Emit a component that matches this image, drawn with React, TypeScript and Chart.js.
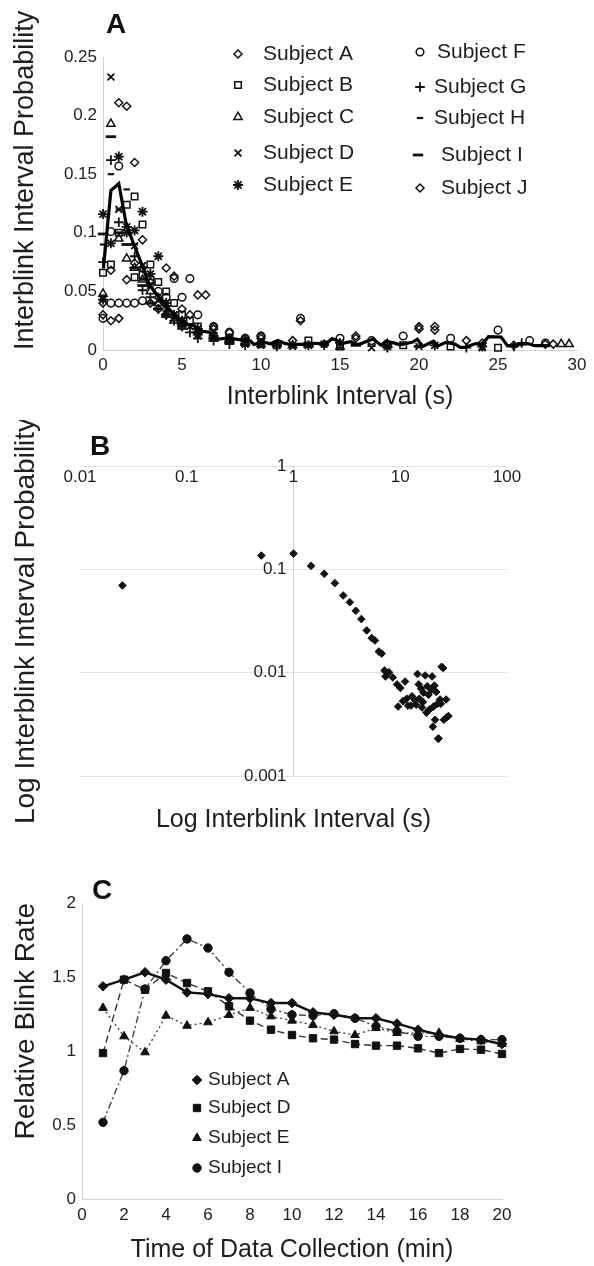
import React, { useEffect, useRef } from 'react';
import { Chart, registerables } from 'chart.js';
import { drawPoint } from 'chart.js/helpers';

Chart.register(...registerables);

const FONT = '"Liberation Sans", Arial, Helvetica, sans-serif';
const INK = '#1e1e1e';
const AXIS_GRAY = '#d2d2d2';
const GRID_GRAY = '#e2e2e2';

// ---------------- Panel A data ----------------
const subjectNames = ['Subject A', 'Subject B', 'Subject C', 'Subject D', 'Subject E', 'Subject F', 'Subject G', 'Subject H', 'Subject I', 'Subject J'];

const subjA: [number, number][] = [[0, 0.040], [0.5, 0.068], [1, 0.211], [1.5, 0.208], [2, 0.074], [2.5, 0.094], [3, 0.058], [3.5, 0.045], [4, 0.070], [4.5, 0.063], [5, 0.035], [5.5, 0.030], [6, 0.047], [6.5, 0.047], [7, 0.020], [8, 0.015], [9, 0.010], [10, 0.012], [12, 0.008], [14, 0.005], [16, 0.010], [18, 0.005], [20, 0.018], [21, 0.020], [23, 0.008], [26, 0.004], [28, 0.005]];
const subjB: [number, number][] = [[0, 0.066], [0.5, 0.073], [1, 0.100], [1.5, 0.124], [2, 0.131], [2, 0.062], [2.5, 0.107], [2.5, 0.064], [3, 0.073], [3, 0.060], [3.5, 0.058], [4, 0.050], [4.5, 0.040], [5, 0.030], [5.5, 0.025], [6, 0.020], [7, 0.012], [8, 0.010], [9, 0.006], [10, 0.005], [11, 0.004], [13, 0.008], [15, 0.003], [17, 0.006], [19, 0.004], [22, 0.003], [25, 0.002]];
const subjC: [number, number][] = [[0, 0.048], [0.5, 0.193], [1, 0.095], [1.5, 0.078], [2, 0.070], [2.5, 0.060], [3, 0.050], [3.5, 0.040], [4, 0.030], [4.5, 0.025], [5, 0.020], [6, 0.015], [7, 0.010], [8, 0.008], [10, 0.005], [12, 0.004], [15, 0.003], [18, 0.005], [29, 0.005], [29.5, 0.005]];
const subjD: [number, number][] = [[0, 0.045], [0.5, 0.233], [1, 0.120], [1.5, 0.100], [2, 0.089], [2.5, 0.072], [3, 0.055], [3.5, 0.042], [4, 0.035], [4.5, 0.030], [5, 0.025], [5.5, 0.020], [6, 0.012], [7, 0.010], [8, 0.008], [9, 0.005], [10, 0.004], [12, 0.003], [14, 0.005], [17, 0.002], [20, 0.003], [24, 0.002]];
const subjE: [number, number][] = [[0, 0.116], [0, 0.043], [0.5, 0.091], [1, 0.165], [1.5, 0.105], [2, 0.102], [2.5, 0.118], [3, 0.065], [3.5, 0.080], [4, 0.040], [4.5, 0.030], [5, 0.025], [6, 0.018], [7, 0.012], [8, 0.010], [9, 0.008], [10, 0.006], [11, 0.005], [13, 0.004], [15, 0.006], [18, 0.003], [21, 0.004], [24, 0.003]];
const subjF: [number, number][] = [[0, 0.027], [0.5, 0.101], [0.5, 0.040], [1, 0.157], [1, 0.040], [1.5, 0.040], [2, 0.040], [2.5, 0.042], [3, 0.057], [3.5, 0.050], [4, 0.045], [4.5, 0.061], [5, 0.045], [5.5, 0.061], [6, 0.030], [7, 0.020], [8, 0.015], [9, 0.010], [10, 0.012], [12.5, 0.027], [15, 0.010], [17, 0.008], [19, 0.012], [22, 0.010], [25, 0.017], [27, 0.008], [28, 0.006]];
const subjG: [number, number][] = [[0, 0.075], [0.5, 0.162], [1, 0.109], [1.5, 0.100], [2, 0.080], [2.5, 0.051], [3, 0.045], [3.5, 0.035], [4, 0.030], [4.5, 0.025], [5, 0.020], [5.5, 0.015], [6, 0.010], [7, 0.008], [8, 0.005], [9, 0.004], [11, 0.003], [14, 0.004], [18, 0.002], [23, 0.002], [26, 0.003], [26.5, 0.006]];
const subjH: [number, number][] = [[0, 0.090], [0.5, 0.150], [1, 0.120], [1.5, 0.137], [2, 0.090], [2.5, 0.060], [3, 0.040], [4, 0.030], [5, 0.020], [6, 0.012], [7, 0.008], [8, 0.006], [10, 0.004], [12, 0.003], [15, 0.002]];
const subjI: [number, number][] = [[0, 0.099], [0.5, 0.182], [1, 0.100], [1.5, 0.090], [2, 0.070], [2.5, 0.055], [3, 0.040], [3.5, 0.035], [4, 0.030], [5, 0.022], [6, 0.015], [7, 0.010], [8, 0.007], [9, 0.005], [11, 0.004], [13, 0.003], [16, 0.004], [20, 0.003]];
const subjJ: [number, number][] = [[0, 0.030], [0.5, 0.025], [1, 0.027], [1.5, 0.060], [2, 0.160], [2.5, 0.070], [3, 0.040], [3.5, 0.035], [4, 0.030], [5, 0.020], [6, 0.015], [7, 0.018], [8, 0.010], [9, 0.008], [10, 0.010], [12.5, 0.025], [16, 0.012], [20, 0.020], [21, 0.017], [24, 0.006], [28.5, 0.005]];

// Mean interblink interval distribution (line in A, log-log scatter in B)
const meanX = [0.025, 0.5, 1.0, 1.46, 1.94, 2.44, 2.92, 3.37, 3.83, 4.32, 4.85, 5.4, 5.8, 6.3, 6.7, 7.12, 7.28, 7.82, 8.51, 9.34, 9.55, 10.04, 10.6, 11.1, 11.5, 11.8, 12.6, 12.9, 13.8, 14.1, 14.5, 14.9, 15.1, 15.7, 16.0, 16.3, 16.5, 17.1, 17.6, 17.9, 18.4, 18.8, 19.6, 19.9, 20.2, 20.5, 20.9, 21.2, 21.7, 22.3, 22.6, 22.9, 23.6, 24.0, 24.4, 25.2, 25.6, 26.9, 27.3, 28.3];
const meanY = [0.0697, 0.136, 0.142, 0.108, 0.0905, 0.0735, 0.0558, 0.048, 0.0397, 0.033, 0.0256, 0.0216, 0.0205, 0.016, 0.0153, 0.0105, 0.0092, 0.0101, 0.0090, 0.0077, 0.0047, 0.0071, 0.0053, 0.0082, 0.0056, 0.0048, 0.0048, 0.0059, 0.0054, 0.0049, 0.0097, 0.0077, 0.0056, 0.0070, 0.0046, 0.0052, 0.0064, 0.0094, 0.0041, 0.0074, 0.0061, 0.0044, 0.0068, 0.0092, 0.0030, 0.0047, 0.0075, 0.0035, 0.0065, 0.0050, 0.0023, 0.0023, 0.0055, 0.0050, 0.0114, 0.0111, 0.0035, 0.0055, 0.0037, 0.0038];

// ---------------- Panel B ticks ----------------
const bXTicks = [0.01, 0.1, 1, 10, 100];
const bYTicks = [0.001, 0.01, 0.1, 1];

// ---------------- Panel C data ----------------
const minutes = [1, 2, 3, 4, 5, 6, 7, 8, 9, 10, 11, 12, 13, 14, 15, 16, 17, 18, 19, 20];
const rateA = [1.437, 1.482, 1.532, 1.482, 1.396, 1.385, 1.356, 1.356, 1.324, 1.324, 1.261, 1.245, 1.221, 1.221, 1.185, 1.144, 1.110, 1.086, 1.077, 1.047];
const rateD = [0.986, 1.482, 1.414, 1.527, 1.459, 1.403, 1.302, 1.205, 1.144, 1.108, 1.086, 1.077, 1.047, 1.036, 1.036, 1.018, 0.986, 1.014, 1.009, 0.980];
const rateE = [1.291, 1.099, 0.991, 1.239, 1.171, 1.194, 1.243, 1.291, 1.234, 1.205, 1.176, 1.133, 1.108, 1.155, 1.122, 1.122, 1.122, 1.081, 1.065, 1.047];
const rateI = [0.518, 0.867, 1.419, 1.610, 1.757, 1.696, 1.532, 1.392, 1.284, 1.245, 1.239, 1.252, 1.221, 1.167, 1.133, 1.099, 1.099, 1.086, 1.077, 1.077];
const cNames = ['Subject A', 'Subject D', 'Subject E', 'Subject I'];

// ---------------- helpers ----------------
const toPts = (arr: [number, number][]) => arr.map(([x, y]) => ({ x, y }));
const fmt = (v: any) => String(Number(Number(v).toFixed(3)));
const tickFont = { family: FONT, size: 17 };

type LegendItem = { ds: number; mx: number; tx: number; y: number };
function makeLegend(id: string, items: LegendItem[], fontSize: number) {
  return {
    id,
    afterDraw(chart: any) {
      const ctx = chart.ctx as CanvasRenderingContext2D;
      items.forEach((it) => {
        const ds: any = chart.data.datasets[it.ds];
        ctx.save();
        ctx.setLineDash([]);
        ctx.strokeStyle = ds.pointBorderColor || ds.borderColor;
        ctx.fillStyle = ds.pointBackgroundColor || ds.backgroundColor;
        const bw = ds.pointBorderWidth ?? ds.borderWidth ?? 1;
        ctx.lineWidth = bw;
        drawPoint(ctx, { pointStyle: ds.pointStyle, radius: ds.pointRadius, rotation: 0, borderWidth: bw } as any, it.mx, it.y);
        ctx.restore();
        ctx.save();
        ctx.font = `${fontSize}px ${FONT}`;
        ctx.fillStyle = INK;
        ctx.textBaseline = 'middle';
        ctx.textAlign = 'left';
        ctx.fillText(ds.label, it.tx, it.y);
        ctx.restore();
      });
    },
  };
}

const aMarkers = [
  { style: 'rectRot', r: 4, w: 1.5 },
  { style: 'rect', r: 4.6, w: 1.5 },
  { style: 'triangle', r: 4.8, w: 1.5 },
  { style: 'crossRot', r: 4.8, w: 1.8 },
  { style: 'star', r: 5, w: 1.8 },
  { style: 'circle', r: 3.8, w: 1.5 },
  { style: 'cross', r: 4.8, w: 1.8 },
  { style: 'line', r: 3.2, w: 2.2 },
  { style: 'line', r: 5.2, w: 2.8 },
  { style: 'rectRot', r: 4, w: 1.5 },
];

const aLegendItems: LegendItem[] = [
  { ds: 1, mx: 238, tx: 263, y: 54 },
  { ds: 2, mx: 238, tx: 263, y: 85 },
  { ds: 3, mx: 238, tx: 263, y: 117 },
  { ds: 4, mx: 238, tx: 263, y: 153 },
  { ds: 5, mx: 238, tx: 263, y: 185 },
  { ds: 6, mx: 420, tx: 437, y: 52 },
  { ds: 7, mx: 420, tx: 434, y: 87 },
  { ds: 8, mx: 420, tx: 434, y: 118 },
  { ds: 9, mx: 418, tx: 441, y: 155 },
  { ds: 10, mx: 420, tx: 441, y: 188 },
];

const cLegendItems: LegendItem[] = [
  { ds: 0, mx: 197, tx: 208, y: 240 },
  { ds: 1, mx: 197, tx: 208, y: 268 },
  { ds: 2, mx: 197, tx: 208, y: 298 },
  { ds: 3, mx: 197, tx: 208, y: 328 },
];

function configA(): any {
  const subjects = [subjA, subjB, subjC, subjD, subjE, subjF, subjG, subjH, subjI, subjJ];
  const datasets: any[] = [
    {
      type: 'line',
      label: 'Mean',
      data: meanX.map((x, i) => ({ x, y: meanY[i] })),
      borderColor: '#000',
      borderWidth: 3.2,
      pointRadius: 0,
      tension: 0,
      fill: false,
      clip: false,
    },
  ];
  subjects.forEach((s, i) => {
    const m = aMarkers[i];
    datasets.push({
      type: 'scatter',
      label: subjectNames[i],
      data: toPts(s),
      pointStyle: m.style,
      pointRadius: m.r,
      pointBorderWidth: m.w,
      borderWidth: m.w,
      pointBorderColor: '#111',
      borderColor: '#111',
      pointBackgroundColor: 'rgba(255,255,255,0)',
      backgroundColor: 'rgba(255,255,255,0)',
      clip: false,
    });
  });
  return {
    type: 'scatter',
    data: { datasets },
    options: {
      responsive: false,
      animation: false,
      devicePixelRatio: 1,
      events: [],
      layout: { padding: { top: 57, right: 17, left: 0, bottom: 0 } },
      plugins: { legend: { display: false }, tooltip: { enabled: false } },
      scales: {
        x: {
          type: 'linear',
          min: 0,
          max: 30,
          ticks: { stepSize: 5, color: INK, font: tickFont, padding: 5, maxRotation: 0, callback: fmt },
          grid: { display: false, drawTicks: false },
          border: { display: true, color: AXIS_GRAY },
          title: { display: true, text: 'Interblink Interval (s)', color: INK, font: { family: FONT, size: 25 }, padding: { top: 0, bottom: 8 } },
          afterFit: (s: any) => { s.height = 70; },
        },
        y: {
          type: 'linear',
          min: 0,
          max: 0.25,
          ticks: { stepSize: 0.05, color: INK, font: tickFont, padding: 6, callback: fmt },
          grid: { display: false, drawTicks: false },
          border: { display: true, color: AXIS_GRAY },
          title: { display: true, text: 'Interblink Interval Probability', color: INK, font: { family: FONT, size: 27 }, align: 'start', padding: { top: 9, bottom: 0 } },
          afterFit: (s: any) => { s.width = 103; },
        },
      },
    },
    plugins: [makeLegend('legendA', aLegendItems, 21)],
  };
}

function configB(): any {
  return {
    type: 'scatter',
    data: {
      datasets: [
        {
          label: 'Mean',
          data: meanX.map((x, i) => ({ x, y: meanY[i] })),
          xAxisID: 'x',
          yAxisID: 'y',
          pointStyle: 'rectRot',
          pointRadius: 3.8,
          pointBackgroundColor: '#111',
          pointBorderColor: '#111',
          pointBorderWidth: 1,
          clip: false,
        },
      ],
    },
    options: {
      responsive: false,
      animation: false,
      devicePixelRatio: 1,
      events: [],
      layout: { padding: { top: 46, right: 87, left: 0, bottom: 0 } },
      plugins: { legend: { display: false }, tooltip: { enabled: false } },
      scales: {
        x: {
          type: 'logarithmic',
          position: { y: 1 },
          min: 0.01,
          max: 100,
          afterBuildTicks: (s: any) => { s.ticks = bXTicks.map((v) => ({ value: v })); },
          ticks: { color: INK, font: tickFont, padding: 1, autoSkip: false, maxRotation: 0, callback: (v: any) => String(v) },
          grid: { display: true, drawTicks: false, color: (c: any) => (c.tick && c.tick.value === 1 ? AXIS_GRAY : 'rgba(0,0,0,0)') },
          border: { display: false },
        },
        y: {
          type: 'logarithmic',
          position: { x: 0.86 },
          min: 0.001,
          max: 1,
          afterBuildTicks: (s: any) => { s.ticks = bYTicks.map((v) => ({ value: v })); },
          ticks: { color: INK, font: tickFont, padding: 0, autoSkip: false, callback: (v: any) => String(v) },
          grid: { display: true, drawTicks: false, color: GRID_GRAY },
          border: { display: false },
        },
        xt: {
          axis: 'x',
          type: 'linear',
          position: 'bottom',
          min: 0,
          max: 1,
          ticks: { display: false },
          grid: { display: false, drawTicks: false },
          border: { display: false },
          title: { display: true, text: 'Log Interblink Interval (s)', color: INK, font: { family: FONT, size: 25 }, padding: { top: 0, bottom: 5 } },
          afterFit: (s: any) => { s.height = 64; },
        },
        yt: {
          axis: 'y',
          type: 'linear',
          position: 'left',
          min: 0,
          max: 1,
          ticks: { display: false },
          grid: { display: false, drawTicks: false },
          border: { display: false },
          title: { display: true, text: 'Log Interblink Interval Probability', color: INK, font: { family: FONT, size: 28 }, padding: { top: 9, bottom: 0 } },
          afterFit: (s: any) => { s.width = 80; },
        },
      },
    },
  };
}

function configC(): any {
  const mk = (label: string, vals: number[], style: string, r: number, dash: number[], width: number, color: string) => ({
    label,
    data: minutes.map((m, i) => ({ x: m, y: vals[i] })),
    borderColor: color,
    borderWidth: width,
    borderDash: dash,
    pointStyle: style,
    pointRadius: r,
    pointBackgroundColor: '#111',
    pointBorderColor: '#111',
    pointBorderWidth: 1,
    backgroundColor: '#111',
    tension: 0,
    fill: false,
    clip: false,
  });
  return {
    type: 'line',
    data: {
      datasets: [
        mk(cNames[0], rateA, 'rectRot', 4.8, [], 2.4, '#111'),
        mk(cNames[1], rateD, 'rect', 5.2, [7, 4], 1.4, '#333'),
        mk(cNames[2], rateE, 'triangle', 5, [2, 3], 1.4, '#444'),
        mk(cNames[3], rateI, 'circle', 4.2, [7, 3, 2, 3], 1.4, '#444'),
      ],
    },
    options: {
      responsive: false,
      animation: false,
      devicePixelRatio: 1,
      events: [],
      layout: { padding: { top: 63, right: 92, left: 0, bottom: 0 } },
      plugins: { legend: { display: false }, tooltip: { enabled: false } },
      scales: {
        x: {
          type: 'linear',
          min: 0,
          max: 20,
          ticks: { stepSize: 2, color: INK, font: tickFont, padding: 6, maxRotation: 0, callback: fmt },
          grid: { display: false, drawTicks: false },
          border: { display: true, color: AXIS_GRAY },
          title: { display: true, text: 'Time of Data Collection (min)', color: INK, font: { family: FONT, size: 25 }, padding: { top: 0, bottom: 1 } },
          afterFit: (s: any) => { s.height = 67; },
        },
        y: {
          type: 'linear',
          min: 0,
          max: 2,
          ticks: { stepSize: 0.5, color: INK, font: tickFont, padding: 6, callback: fmt },
          grid: { display: false, drawTicks: false },
          border: { display: true, color: AXIS_GRAY },
          title: { display: true, text: 'Relative Blink Rate', color: INK, font: { family: FONT, size: 28 }, align: 'end', padding: { top: 9, bottom: 0 } },
          afterFit: (s: any) => { s.width = 82; },
        },
      },
    },
    plugins: [makeLegend('legendC', cLegendItems, 19)],
  };
}

const panelLabel = (text: string, left: number, top: number) => (
  <div style={{ position: 'absolute', left, top, fontFamily: FONT, fontWeight: 'bold', fontSize: 28, lineHeight: '28px', color: '#111' }}>{text}</div>
);

export default function App() {
  const aRef = useRef<HTMLCanvasElement>(null);
  const bRef = useRef<HTMLCanvasElement>(null);
  const cRef = useRef<HTMLCanvasElement>(null);

  useEffect(() => {
    Chart.defaults.font.family = FONT;
    Chart.defaults.color = INK;
    const charts = [
      new Chart(aRef.current as HTMLCanvasElement, configA()),
      new Chart(bRef.current as HTMLCanvasElement, configB()),
      new Chart(cRef.current as HTMLCanvasElement, configC()),
    ];
    return () => charts.forEach((c) => c.destroy());
  }, []);

  const cs = (top: number, h: number): React.CSSProperties => ({ position: 'absolute', left: 0, top, width: 594, height: h, display: 'block' });

  return (
    <div style={{ position: 'absolute', left: 0, top: 0, width: 594, height: 1266, background: '#fff', overflow: 'hidden' }}>
      <canvas ref={aRef} width={594} height={420} style={cs(0, 420)} />
      <canvas ref={bRef} width={594} height={420} style={cs(420, 420)} />
      <canvas ref={cRef} width={594} height={426} style={cs(840, 426)} />
      {panelLabel('A', 106, 10)}
      {panelLabel('B', 90, 432)}
      {panelLabel('C', 92, 876)}
    </div>
  );
}
